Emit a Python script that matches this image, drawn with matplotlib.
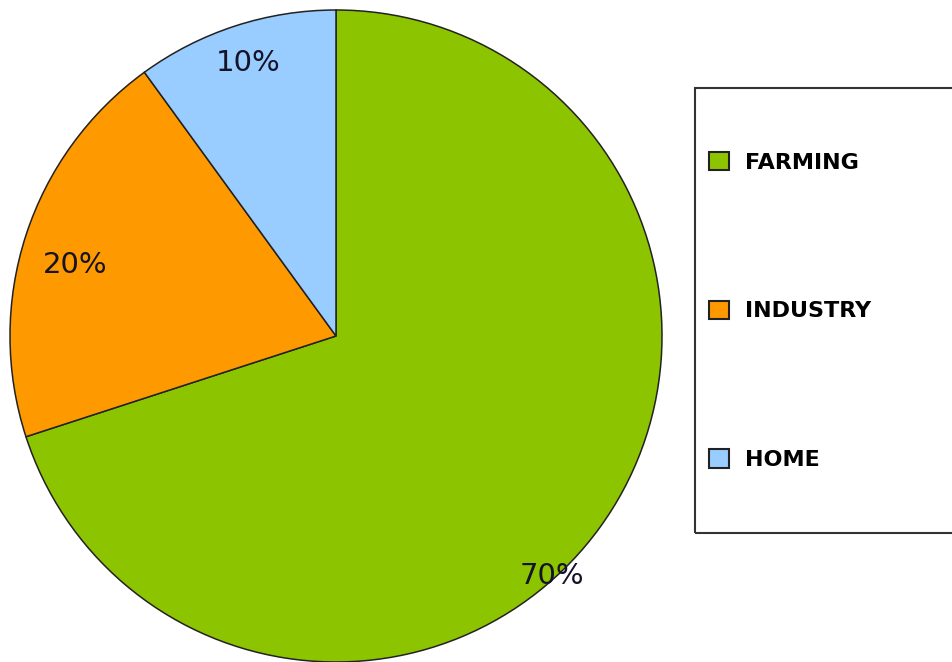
import matplotlib
matplotlib.use("Agg")
import matplotlib.pyplot as plt
from matplotlib.patches import Rectangle
import numpy as np

# water use by sector
sectors = ["FARMING", "INDUSTRY", "HOME"]
shares = [70, 20, 10]
colors = ["#8dc400", "#ff9900", "#99ccff"]

W, H = 953, 662
fig = plt.figure(figsize=(W / 100, H / 100), dpi=100, facecolor="white")
ax = fig.add_axes([0, 0, 1, 1])

cx, cy, r = 336, H - 336, 326
wedges, _ = ax.pie(shares, colors=colors, startangle=90, counterclock=False,
                   center=(cx, cy), radius=r, frame=True,
                   wedgeprops=dict(edgecolor="#222222", linewidth=1.1))
ax.set_xlim(0, W)
ax.set_ylim(0, H)
ax.set_aspect("equal")
ax.axis("off")

# percent labels, placed by (fraction of radius, angle in degrees)
label_pos = [(0.99, -48), (0.83, 164.7), (0.88, 107.8)]
for share, (d, ang) in zip(shares, label_pos):
    a = np.radians(ang)
    ax.text(cx + d * r * np.cos(a), cy + d * r * np.sin(a), f"{share}%",
            ha="center", va="center", fontsize=21, color="#141428")

# legend box running off the right edge
fig.patches.append(Rectangle((695 / W, 1 - 533 / H), 300 / W, 445 / H,
                             transform=fig.transFigure, fill=False,
                             edgecolor="#333333", linewidth=1.5,
                             clip_on=False))
leg = fig.legend(wedges, sectors, loc="center left",
                 bbox_to_anchor=(709 / W, 1 - 311 / H), frameon=False,
                 borderpad=0, borderaxespad=0, labelspacing=5.75,
                 handlelength=0.9, handleheight=0.9, handletextpad=0.7,
                 prop=dict(size=16, weight="bold"))
for h in leg.legend_handles:
    h.set_edgecolor("#222222")
    h.set_linewidth(1.5)

fig.savefig("out.png", dpi=100, facecolor="white")
